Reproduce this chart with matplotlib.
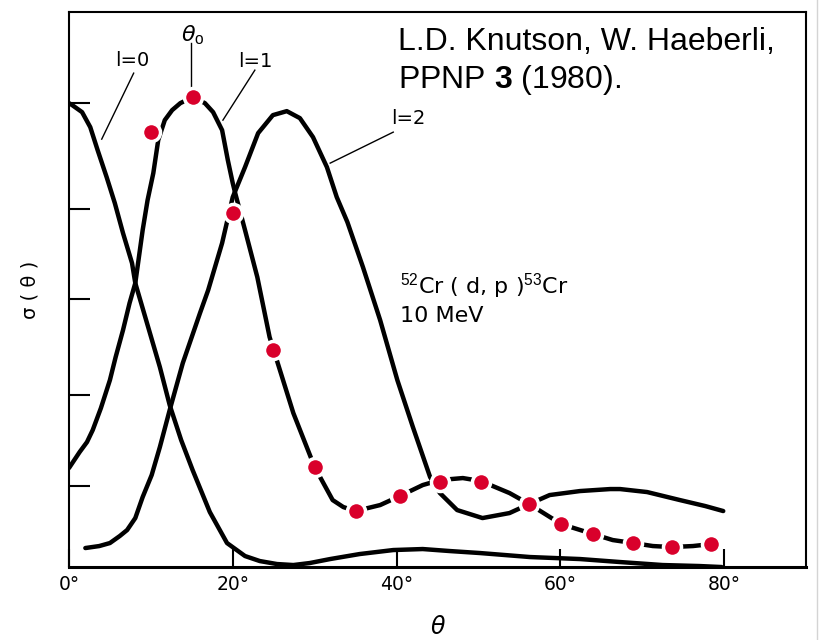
import matplotlib
matplotlib.use("Agg")
import matplotlib.pyplot as plt
from matplotlib.lines import Line2D

plt.rcParams['mathtext.fontset'] = 'custom'
plt.rcParams['mathtext.rm'] = 'Liberation Sans'
plt.rcParams['mathtext.bf'] = 'Liberation Sans:bold'
plt.rcParams['mathtext.it'] = 'Liberation Sans:italic'

# theoretical curves, angle in degrees and cross section in arbitrary units
l0_theta = [0.0, 0.4, 1.6, 2.6, 3.5, 4.6, 5.6, 6.6, 7.7, 8.1, 9.6, 11.1, 12.3,
            13.7, 15.1, 17.2, 19.3, 21.5, 23.3, 25.4, 27.4, 29.4, 31.9, 35.5,
            39.6, 43.2, 46.5, 50.2, 56.3, 62.4, 67.3, 72.5, 77.0, 79.7]
l0_sigma = [4.64, 4.62, 4.55, 4.40, 4.17, 3.90, 3.64, 3.34, 3.04, 2.84, 2.42, 2.00,
            1.62, 1.27, 0.97, 0.55, 0.24, 0.11, 0.06, 0.03, 0.02, 0.04, 0.08,
            0.13, 0.17, 0.18, 0.16, 0.14, 0.10, 0.08, 0.05, 0.02, 0.01, 0.0]

l1_theta = [0.0, 1.3, 2.2, 2.9, 3.9, 5.0, 5.7, 6.6, 7.4, 8.1, 9.0, 9.6, 10.3,
            10.9, 11.7, 12.6, 13.6, 15.1, 16.6, 17.6, 18.7, 19.4, 20.0, 20.3,
            21.5, 23.0, 24.5, 27.4, 30.0, 32.2, 33.5, 35.0, 38.0, 40.4, 43.2,
            45.3, 48.1, 50.3, 53.8, 56.2, 60.1, 64.0, 66.4, 68.9, 71.3, 73.6,
            76.2, 78.4]
l1_sigma = [0.99, 1.15, 1.25, 1.37, 1.59, 1.87, 2.10, 2.37, 2.64, 2.84, 3.37, 3.67,
            3.94, 4.27, 4.47, 4.57, 4.64, 4.70, 4.64, 4.55, 4.37, 4.07, 3.84,
            3.74, 3.37, 2.90, 2.30, 1.54, 1.00, 0.67, 0.60, 0.56, 0.62, 0.71,
            0.82, 0.87, 0.89, 0.86, 0.74, 0.63, 0.43, 0.33, 0.27, 0.24, 0.21,
            0.20, 0.21, 0.23]

l2_theta = [2.0, 3.7, 5.0, 6.2, 7.1, 8.1, 9.0, 10.1, 11.1, 12.3, 13.9, 16.0, 17.0,
            18.7, 20.0, 21.5, 23.1, 24.9, 26.6, 28.2, 29.8, 31.5, 32.7, 34.0,
            35.9, 38.0, 40.1, 42.0, 44.1, 45.3, 47.4, 50.5, 53.8, 56.2, 58.7,
            62.4, 66.1, 67.3, 70.6, 74.6, 77.7, 79.9]
l2_sigma = [0.19, 0.21, 0.24, 0.31, 0.37, 0.49, 0.70, 0.92, 1.20, 1.57, 2.04, 2.54,
            2.77, 3.24, 3.70, 4.00, 4.34, 4.52, 4.56, 4.49, 4.30, 4.00, 3.70,
            3.45, 3.00, 2.47, 1.87, 1.40, 0.90, 0.74, 0.57, 0.49, 0.54, 0.63,
            0.72, 0.76, 0.78, 0.78, 0.75, 0.67, 0.61, 0.56]

# measured points
data_theta = [10.0, 15.1, 20.0, 24.9, 30.0, 35.0, 40.4, 45.3, 50.3, 56.2, 60.1,
              64.0, 68.9, 73.6, 78.4]
data_sigma = [4.35, 4.70, 3.54, 2.17, 1.00, 0.56, 0.71, 0.85, 0.85, 0.63, 0.43,
              0.33, 0.24, 0.20, 0.23]

xticks = [0, 20, 40, 60, 80]
xticklabels = ['0°', '20°', '40°', '60°', '80°']
yticks = [0.81, 1.72, 2.68, 3.58, 4.64]

fig = plt.figure(figsize=(8.23, 6.4), dpi=100)
ax = fig.add_axes([0.0838, 0.114, 0.8955, 0.867])

for th, sg in [(l0_theta, l0_sigma), (l1_theta, l1_sigma), (l2_theta, l2_sigma)]:
    ax.plot(th, sg, color='black', lw=3.2, solid_capstyle='round',
            solid_joinstyle='round', zorder=3)

ax.plot(data_theta, data_sigma, 'o', color='#d9002b', ms=13, mec='white',
        mew=2.5, zorder=5)

ax.set_xlim(0, 90)
ax.set_ylim(0, 5.55)
ax.set_xticks(xticks)
ax.set_xticklabels(xticklabels, fontsize=13.5)
ax.set_yticks(yticks)
ax.set_yticklabels([])
ax.tick_params(axis='x', direction='in', length=13, width=1.5, pad=6)
ax.tick_params(axis='y', direction='in', length=15, width=1.5)
for s in ax.spines.values():
    s.set_linewidth(1.5)
ax.spines['bottom'].set_linewidth(2.2)

ax.set_xlabel('θ', fontsize=17, fontstyle='italic', labelpad=15)
ax.set_ylabel('σ ( θ )', fontsize=14, labelpad=18)

# curve labels with leader lines
lab = dict(fontsize=14, ha='center', va='center')
ax.text(7.7, 5.07, 'l=0', **lab)
ax.plot([7.9, 4.0], [4.94, 4.28], color='black', lw=1.0)
ax.text(22.8, 5.06, 'l=1', **lab)
ax.plot([22.7, 18.8], [4.97, 4.47], color='black', lw=1.0)
ax.text(15.1, 5.32, 'θ$_\\mathrm{o}$', fontsize=16, fontstyle='italic',
        ha='center', va='center')
ax.plot([14.9, 14.9], [5.24, 4.79], color='black', lw=1.0)
ax.text(41.4, 4.49, 'l=2', **lab)
ax.plot([39.6, 31.9], [4.35, 4.04], color='black', lw=1.0)

ax.text(40.4, 2.74, r'$^{52}$Cr ( d, p )$^{53}$Cr', fontsize=16, ha='left',
        va='baseline')
ax.text(40.4, 2.45, '10 MeV', fontsize=16, ha='left', va='baseline')

fig.text(0.4836, 0.958, 'L.D. Knutson, W. Haeberli,\nPPNP $\\mathbf{3}$ (1980).',
         fontsize=23, family='Liberation Sans', ha='left', va='top',
         linespacing=1.25)

fig.add_artist(Line2D([0.9927, 0.9927], [0, 1], transform=fig.transFigure,
                      color='#d4d4d4', lw=1.0))

fig.savefig('out.png', dpi=100)
